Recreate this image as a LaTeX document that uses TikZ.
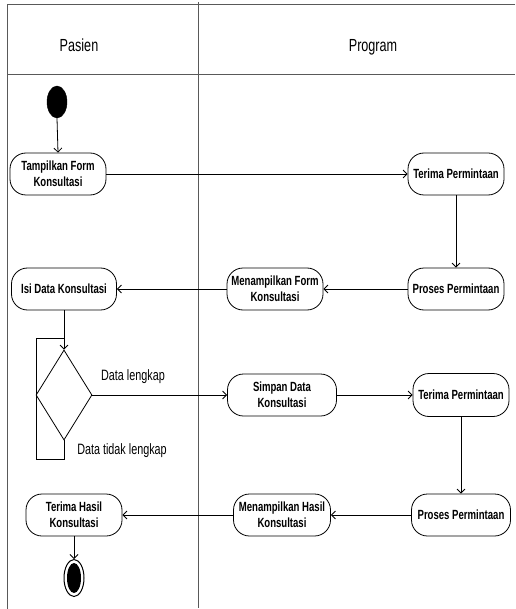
\documentclass[tikz,border=0pt]{standalone}
\usepackage{fontspec}
\setmainfont{Liberation Sans}[FakeStretch=0.72]
\usetikzlibrary{shapes.geometric,arrows.meta}
\begin{document}
\begin{tikzpicture}[x=1pt,y=-1pt,
  act/.style={draw=black,line width=0.8pt,rounded corners=16pt,minimum height=42pt,inner sep=1pt,align=center,font=\fontsize{13.3}{16}\selectfont\bfseries},
  lbl/.style={font=\fontsize{15}{18}\selectfont,inner sep=0pt},
  hdr/.style={font=\fontsize{17.5}{20}\selectfont,inner sep=0pt,anchor=base},
  arr/.style={draw=black,line width=0.8pt,-{Straight Barb[length=4pt,width=8pt]}},
  ln/.style={draw=black,line width=0.8pt},
  frame/.style={draw=black!65,line width=1pt}]
\useasboundingbox (0,0) rectangle (515,609);
% swimlane frame
\draw[frame] (515,5) -- (7,5) -- (7,609);
\draw[frame] (7,75) -- (515,75);
\draw[frame] (198,2) -- (198,608);
\node[hdr] (hp) at (79,52) {Pasien};
\node[hdr] (hg) at (373,52) {Program};
% nodes
\node[ellipse,fill=black,draw=black,minimum width=20pt,minimum height=32pt,inner sep=0pt] (start) at (57,102) {};
\node[act,minimum width=96pt] (tampil) at (58,174) {Tampilkan Form\\Konsultasi};
\node[act,minimum width=96pt] (terima1) at (456,174) {Terima Permintaan};
\node[act,minimum width=96pt] (proses1) at (456,289) {Proses Permintaan};
\node[act,minimum width=96pt] (menamp1) at (275,289) {Menampilkan Form\\Konsultasi};
\node[act,minimum width=105pt] (isi) at (64,289) {Isi Data Konsultasi};
\node[diamond,draw=black,line width=0.8pt,minimum width=56pt,minimum height=90pt,inner sep=0pt] (dia) at (64,395) {};
\node[act,minimum width=109pt] (simpan) at (282,395) {Simpan Data\\Konsultasi};
\node[act,minimum width=96pt,minimum height=43pt] (terima2) at (461,395) {Terima Permintaan};
\node[act,minimum width=99pt] (proses2) at (461,515) {Proses Permintaan};
\node[act,minimum width=97pt] (menamp2) at (282,515) {Menampilkan Hasil\\Konsultasi};
\node[act,minimum width=96pt] (hasil) at (74,515) {Terima Hasil\\Konsultasi};
\node[ellipse,draw=black,line width=1pt,minimum width=20pt,minimum height=37pt,inner sep=0pt] (end) at (74,578) {};
\fill[black] (end.center) ellipse [x radius=7pt,y radius=15pt];
% labels
\node[lbl] (l1) at (133,377) {Data lengkap};
\node[lbl] (l2) at (122,451) {Data tidak lengkap};
% connectors
\draw[arr] (start.south) -- (tampil.north);
\draw[arr] (tampil.east) -- (terima1.west);
\draw[arr] (terima1.south) -- (proses1.north);
\draw[arr] (proses1.west) -- (menamp1.east);
\draw[arr] (menamp1.west) -- (isi.east);
\draw[arr] (isi.south) -- (dia.north);
\coordinate (c1) at (64,459);
\coordinate (c2) at (36,459);
\coordinate (c3) at (36,338);
\coordinate (c4) at (64,338);
\draw[ln] (dia.south) -- (c1) -- (c2) -- (c3) -- (c4);
\draw[arr] (dia.east) -- (simpan.west);
\draw[arr] (simpan.east) -- (terima2.west);
\draw[arr] (terima2.south) -- (proses2.north);
\draw[arr] (proses2.west) -- (menamp2.east);
\draw[arr] (menamp2.west) -- (hasil.east);
\draw[arr] (hasil.south) -- (end.north);
\end{tikzpicture}
\end{document}
